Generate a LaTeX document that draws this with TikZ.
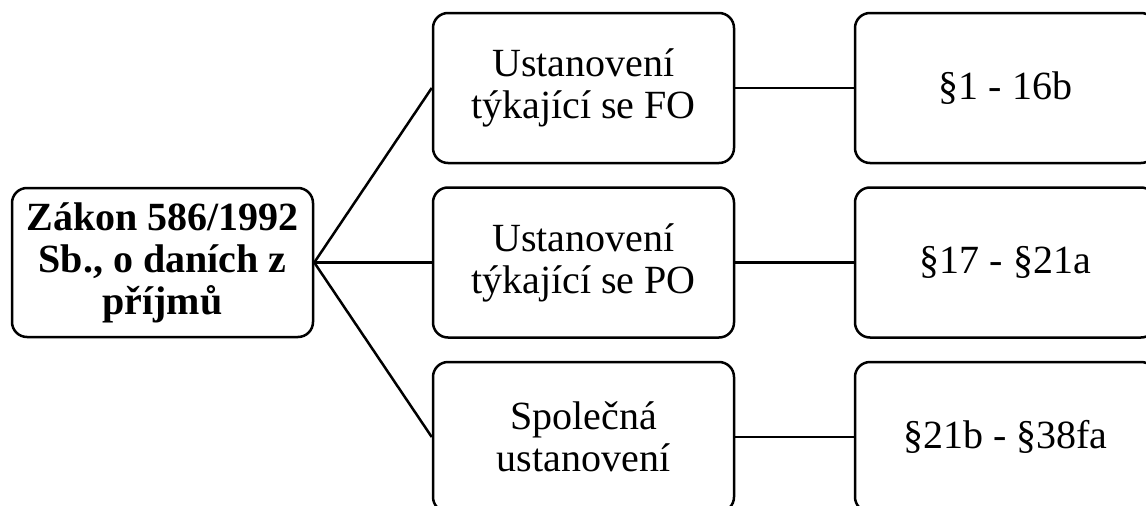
\documentclass[tikz,border=0pt]{standalone}
\usepackage{fontspec}
\setmainfont{Liberation Serif}
\begin{document}
\begin{tikzpicture}[x=1pt,y=-1pt,
  box/.style={draw=black, line width=2.5pt, rounded corners=15pt, minimum width=301pt, minimum height=150pt, align=center, inner sep=0pt, font=\fontsize{40}{42}\selectfont},
  conn/.style={draw=black, line width=2.5pt}]
\useasboundingbox (0,0) rectangle (1146,506);
\clip (0,0) rectangle (1146,506);
\node[box, minimum height=149pt, font=\fontsize{40}{42}\selectfont\bfseries] (root) at (162.5,262.5) {Zákon 586/1992\\Sb., o daních z\\příjmů};
\node[box] (m1) at (583.5,88) {Ustanovení\\týkající se FO};
\node[box] (m2) at (583.5,262.5) {Ustanovení\\týkající se PO};
\node[box] (m3) at (583.5,437) {Společná\\ustanovení};
\node[box] (r1) at (1005.5,88) {§1 - 16b};
\node[box] (r2) at (1005.5,262.5) {§17 - §21a};
\node[box] (r3) at (1005.5,437) {§21b - §38fa};
\draw[conn] (root.east) -- (m1.west);
\draw[conn] (root.east) -- (m2.west);
\draw[conn] (root.east) -- (m3.west);
\draw[conn] (m1.east) -- (r1.west);
\draw[conn] (m2.east) -- (r2.west);
\draw[conn] (m3.east) -- (r3.west);
\end{tikzpicture}
\end{document}
